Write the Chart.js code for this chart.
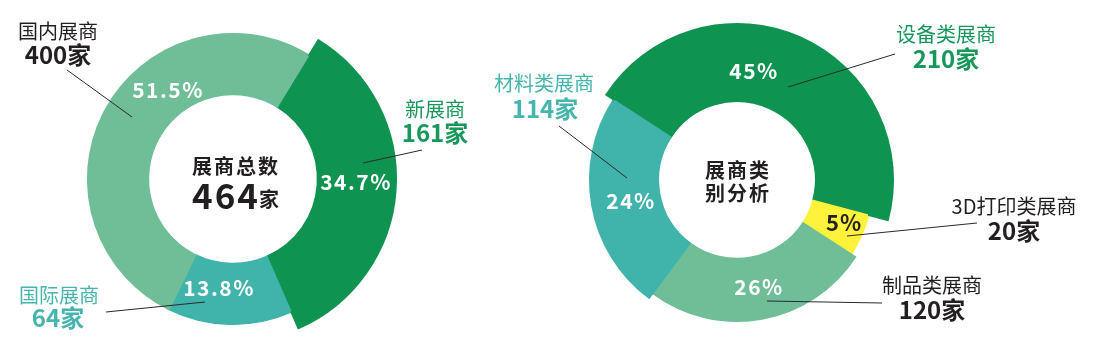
<!DOCTYPE html>
<html>
<head>
<meta charset="utf-8">
<script src="https://cdn.jsdelivr.net/npm/chart.js@4.4.0/dist/chart.umd.min.js"></script>
<style>
  html, body { margin: 0; padding: 0; background: #fff; }
  #wrap { position: relative; width: 1102px; height: 359px; }
  canvas { position: absolute; left: 0; top: 0; }
</style>
</head>
<body>
<div id="wrap">
  <canvas id="totalChart" width="1102" height="359"></canvas>
  <canvas id="typeChart" width="1102" height="359"></canvas>
</div>
<script>
// left: exhibitors by origin
const totalLabels = ['新展商', '国际展商', '国内展商']
const totalPercent = [34.7, 13.8, 51.5]
const totalCount = [161, 64, 400]
const totalSum = 464

// right: exhibitors by type
const typeLabels = ['设备类展商', '3D打印类展商', '制品类展商', '材料类展商']
const typePercent = [45, 5, 26, 24]
const typeCount = [210, 20, 120, 114]

const DARK = '#0e9450'
const LIGHT = '#6fbe97'
const TEAL = '#40b3aa'
const YELLOW = '#fff23c'
const INK = '#231f20'
const GREEN_TXT = '#17985a'
const TEAL_TXT = '#45b5ad'
const FONT = '"Noto Sans CJK SC", "Noto Sans", sans-serif'

// one ring of the doughnut, only some slices visible (gives slices different outer radius)
function ring(values, colors, show, weight) {
  const bg = colors.map((c, i) => show[i] ? c : 'rgba(0,0,0,0)')
  return {
    data: values,
    backgroundColor: bg,
    borderColor: bg,
    borderWidth: show.map(s => s ? 1.5 : 0),
    borderJoinStyle: 'miter',
    hoverOffset: 0,
    weight: weight
  }
}

function notes(texts, lines) {
  return {
    id: 'notes',
    afterDraw(chart) {
      const ctx = chart.ctx
      ctx.save()
      ctx.strokeStyle = '#2a2a2a'
      ctx.lineWidth = 1
      lines.forEach(l => {
        ctx.beginPath()
        ctx.moveTo(l[0], l[1])
        ctx.lineTo(l[2], l[3])
        ctx.stroke()
      })
      texts.forEach(t => {
        ctx.font = t.font + ' ' + FONT
        ctx.fillStyle = t.color
        ctx.letterSpacing = t.ls || '0px'
        ctx.textAlign = 'center'
        ctx.textBaseline = 'middle'
        ctx.fillText(t.text, t.x, t.y)
      })
      ctx.restore()
    }
  }
}

const pctFont = 'bold 21px'
const nameFont = '20px'
const countFont = 'bold 24px'

const totalColors = [DARK, TEAL, LIGHT]
new Chart(document.getElementById('totalChart'), {
  type: 'doughnut',
  data: {
    labels: totalLabels,
    datasets: [
      ring(totalPercent, totalColors, [true, false, false], 18),
      ring(totalPercent, totalColors, [true, true, true], 61)
    ]
  },
  options: {
    responsive: false,
    animation: false,
    events: [],
    cutout: '51.8%',
    rotation: 31.5,
    layout: { padding: { left: 69, right: 705, top: 15, bottom: 16 } },
    plugins: { legend: { display: false }, tooltip: { enabled: false } }
  },
  plugins: [notes([
    { text: totalLabels[2], x: 58, y: 31, font: nameFont, color: INK },
    { text: totalCount[2] + '家', x: 58, y: 55, font: countFont, color: INK },
    { text: totalPercent[2] + '%', x: 168, y: 90, font: pctFont, color: '#fff', ls: '1.5px' },
    { text: totalLabels[0], x: 435, y: 109, font: nameFont, color: GREEN_TXT },
    { text: totalCount[0] + '家', x: 435, y: 133, font: countFont, color: GREEN_TXT },
    { text: totalPercent[0] + '%', x: 356, y: 182, font: pctFont, color: '#fff', ls: '1.5px' },
    { text: totalPercent[1] + '%', x: 219, y: 288, font: pctFont, color: '#fff', ls: '1.5px' },
    { text: totalLabels[1], x: 59, y: 295, font: nameFont, color: TEAL_TXT },
    { text: totalCount[1] + '家', x: 58, y: 318, font: countFont, color: TEAL_TXT },
    { text: '展商总数', x: 236, y: 166, font: 'bold 20px', color: INK, ls: '2px' },
    { text: String(totalSum), x: 226, y: 196, font: 'bold 35px', color: INK, ls: '2px' },
    { text: '家', x: 269, y: 199, font: 'bold 20px', color: INK }
  ], [
    [67, 70, 132, 117],
    [363, 163, 422, 150],
    [106, 312, 205, 302]
  ])]
})

const typeColors = [DARK, YELLOW, LIGHT, TEAL]
new Chart(document.getElementById('typeChart'), {
  type: 'doughnut',
  data: {
    labels: typeLabels,
    datasets: [
      ring(typePercent, typeColors, [true, false, false, false], 9),
      ring(typePercent, typeColors, [true, false, false, true], 6),
      ring(typePercent, typeColors, [true, false, true, true], 5),
      ring(typePercent, typeColors, [true, true, true, true], 58)
    ]
  },
  options: {
    responsive: false,
    animation: false,
    events: [],
    cutout: '50.3%',
    rotation: -57,
    layout: { padding: { left: 580, right: 208, top: 23, bottom: 22 } },
    plugins: { legend: { display: false }, tooltip: { enabled: false } }
  },
  plugins: [notes([
    { text: typeLabels[3], x: 544, y: 83, font: nameFont, color: TEAL_TXT },
    { text: typeCount[3] + '家', x: 545, y: 109, font: countFont, color: TEAL_TXT },
    { text: typePercent[0] + '%', x: 754, y: 71, font: pctFont, color: '#fff', ls: '1.5px' },
    { text: typePercent[3] + '%', x: 631, y: 201, font: pctFont, color: '#fff', ls: '1.5px' },
    { text: typePercent[2] + '%', x: 759, y: 287, font: pctFont, color: '#fff', ls: '1.5px' },
    { text: typePercent[1] + '%', x: 844, y: 223, font: 'bold 22px', color: INK, ls: '1px' },
    { text: typeLabels[0], x: 946, y: 34, font: nameFont, color: GREEN_TXT },
    { text: typeCount[0] + '家', x: 946, y: 59, font: countFont, color: GREEN_TXT },
    { text: typeLabels[1], x: 1014, y: 206, font: nameFont, color: INK },
    { text: typeCount[1] + '家', x: 1014, y: 231, font: countFont, color: INK },
    { text: typeLabels[2], x: 932, y: 285, font: nameFont, color: INK },
    { text: typeCount[2] + '家', x: 932, y: 310, font: countFont, color: INK },
    { text: '展商类', x: 738, y: 170, font: 'bold 20px', color: INK, ls: '2px' },
    { text: '别分析', x: 738, y: 193, font: 'bold 20px', color: INK, ls: '2px' }
  ], [
    [559, 126, 627, 178],
    [788, 87, 895, 54],
    [847, 236, 977, 223],
    [767, 301, 882, 303]
  ])]
})
</script>
</body>
</html>
